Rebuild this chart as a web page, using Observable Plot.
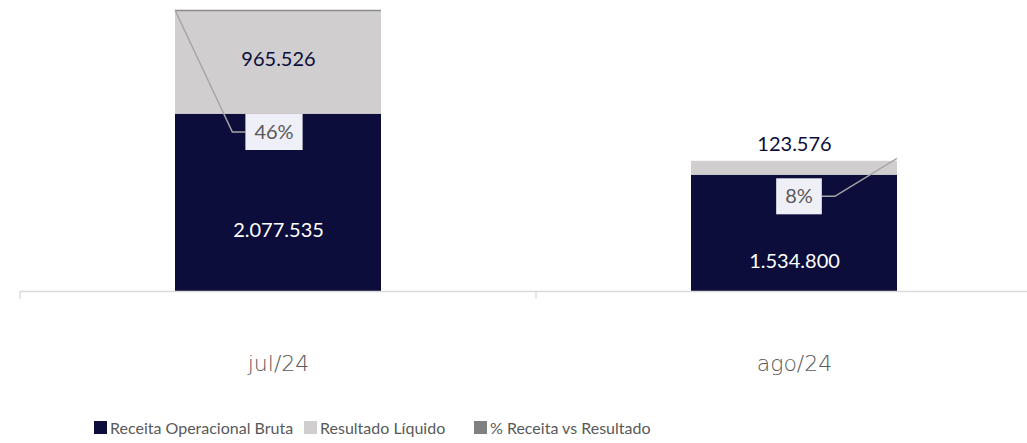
<!DOCTYPE html>
<html><head><meta charset="utf-8">
<script src="https://cdn.jsdelivr.net/npm/d3@7"></script>
<script src="https://cdn.jsdelivr.net/npm/@observablehq/plot@0.6"></script>
<style>
body{margin:0;background:#fff;}
#chart svg{display:block;}
#legend{position:relative;height:43px;font-family:Lato,"Noto Sans",sans-serif;font-size:16px;color:#595959;}
#legend .item{position:absolute;top:18px;display:flex;align-items:center;white-space:nowrap;}
#legend .sw{width:13px;height:13px;margin-right:3px;}
</style></head><body><div id="chart"></div><div id="legend"></div>
<script>
const categories = ["jul/24", "ago/24"];
const receita = [2077535, 1534800];
const resultado = [965526, 123576];
const pct = [0.46, 0.08];
const seriesNames = ["Receita Operacional Bruta", "Resultado Líquido", "% Receita vs Resultado"];
const colors = ["#0c0d3b", "#d0cece", "#808080"];

const W = 1027, H = 400;
const yMin = 500000, yMax = 3000000;
const pctToY = d3.scaleLinear().domain([-0.26, 0.46]).range([yMin, yMax]);
const fmt = d3.formatLocale({decimal: ",", thousands: ".", grouping: [3], currency: ["", ""]}).format(",.0f");

const rows = categories.flatMap((c, i) => [
  {cat: c, series: seriesNames[0], value: receita[i]},
  {cat: c, series: seriesNames[1], value: resultado[i]}
]);
const totals = categories.map((c, i) => ({cat: c, total: receita[i] + resultado[i]}));
const st = {x: "cat", y: "value", z: "series", order: seriesNames};
const small = d => d.value < 300000;

const chart = Plot.plot({
  width: W, height: H,
  marginTop: 10, marginBottom: 109, marginLeft: 20, marginRight: 0,
  x: {domain: categories, range: [20, 1052], paddingInner: 0.6, paddingOuter: 0.3, axis: null},
  y: {domain: [yMin, yMax], axis: null},
  color: {domain: seriesNames, range: colors},
  style: {fontFamily: "Lato, 'Noto Sans', sans-serif", background: "white", overflow: "visible"},
  marks: [
    Plot.barY(rows, Plot.stackY({...st, fill: "series", clip: true})),
    Plot.tickY(totals.filter(d => d.total > yMax), {x: "cat", y: () => yMax, stroke: "#8c8c8c", strokeWidth: 1.5}),
    Plot.ruleY([yMin], {stroke: "#d9d9d9", strokeWidth: 1.3}),
    Plot.text(rows, Plot.stackY({...st, text: d => d.series === seriesNames[0] ? fmt(d.value) : "", fill: "white", fontSize: 20})),
    Plot.text(rows, Plot.stackY({...st, text: d => d.series === seriesNames[1] && !small(d) ? fmt(d.value) : "", fill: colors[0], fontSize: 20})),
    Plot.text(rows, Plot.stackY2({...st, text: d => d.series === seriesNames[1] && small(d) ? fmt(d.value) : "", fill: colors[0], fontSize: 20, dy: -17})),
    Plot.axisX({domain: categories, tickSize: 0, tickPadding: 64, fontSize: 22, fill: "#595959", fontFamily: "'DejaVu Sans', sans-serif", fontWeight: 200, label: null})
  ]
});
document.getElementById("chart").appendChild(chart);

// ticks at band boundaries, % series labels with leader lines (through Plot's scales)
const X = chart.scale("x"), Y = chart.scale("y");
const svg = d3.select(chart);
const y0 = Y.apply(yMin);
const g = svg.append("g");
categories.forEach(c => {
  const bx = X.apply(c) - (X.step - X.bandwidth) / 2;
  g.append("line").attr("x1", bx).attr("x2", bx).attr("y1", y0).attr("y2", y0 + 8)
    .attr("stroke", "#d9d9d9").attr("stroke-width", 1.3);
});
const labelOffsets = [{dx: 99, dy: 122, side: -1}, {dx: -98, dy: 38, side: 1}];
categories.forEach((c, i) => {
  const px = X.apply(c) + (i === 0 ? 0 : X.bandwidth);
  const py = Math.max(Y.apply(pctToY(pct[i])), Y.apply(yMax));
  const o = labelOffsets[i];
  const cx = px + o.dx, cy = py + o.dy;
  const text = Math.round(pct[i] * 100) + "%";
  const t = g.append("text").attr("x", cx).attr("y", cy).attr("dy", "0.35em")
    .attr("text-anchor", "middle").attr("font-size", 20).attr("fill", "#595959").text(text);
  const bb = t.node().getBBox();
  const bw = bb.width + 18, bh = 36;
  const edge = cx + o.side * bw / 2;
  g.insert("path", "text").attr("d", `M${px},${py}L${edge + o.side * 13},${cy}L${edge},${cy}`)
    .attr("fill", "none").attr("stroke", "#a6a6a6").attr("stroke-width", 1.5);
  g.insert("rect", "text").attr("x", cx - bw / 2).attr("y", cy - bh / 2).attr("width", bw).attr("height", bh)
    .attr("fill", "#efeff8");
});

const legendLeft = [94, 304, 474];
const leg = d3.select("#legend");
seriesNames.forEach((s, i) => {
  const it = leg.append("div").attr("class", "item").style("left", legendLeft[i] + "px");
  it.append("div").attr("class", "sw").style("background", colors[i]);
  it.append("span").text(s);
});
</script>
</body></html>
